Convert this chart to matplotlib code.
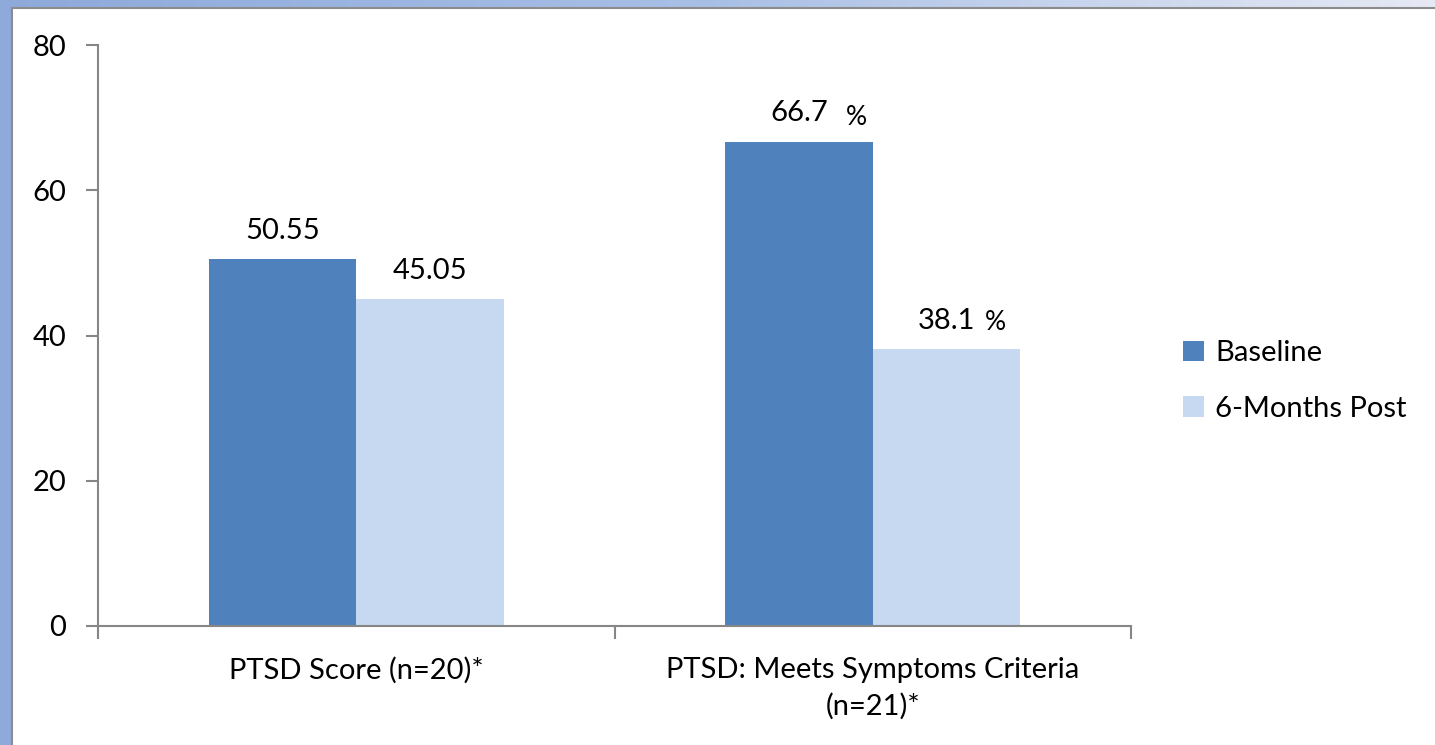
import numpy as np
import matplotlib.pyplot as plt
from matplotlib.patches import Rectangle

plt.rcParams['font.family'] = ['Lato', 'DejaVu Sans']
plt.rc('font', size=21)

# data
categories = ['PTSD Score (n=20)*', 'PTSD: Meets Symptoms Criteria\n(n=21)*']
series = ['Baseline', '6-Months Post']
baseline = [50.55, 66.7]
post = [45.05, 38.1]
baseline_labels = ['50.55', '66.7']
post_labels = ['45.05', '38.1']
label_suffix = ['', '%']
colors = ['#4f81bd', '#c6d9f0']

fig = plt.figure(figsize=(14.35, 7.45), dpi=100)

# blue gradient frame behind the white panel
bg = fig.add_axes([0, 0, 1, 1], zorder=-10)
gx = np.linspace(0, 1, 256)
grad = np.tile(gx, (2, 1))
bg.imshow(grad, extent=[0, 1, 0, 1], aspect='auto', cmap=plt.matplotlib.colors.LinearSegmentedColormap.from_list(
    'frame', ['#8eaadb', '#a9c0e6', '#e6e9f4']), origin='lower')
bg.add_patch(Rectangle((12/1435, -0.01), 1, 1.01 - 8/745, facecolor='white', edgecolor='#8c8c8c', lw=1.5))
bg.set_xlim(0, 1)
bg.set_ylim(0, 1)
bg.axis('off')

ax = fig.add_axes([98/1435, 1 - 626/745, (1131 - 98)/1435, (626 - 45)/745])
ax.patch.set_alpha(0)
x = np.arange(len(categories))
w = 0.2856
b1 = ax.bar(x - w/2, baseline, w, color=colors[0], label=series[0])
b2 = ax.bar(x + w/2, post, w, color=colors[1], label=series[1])

for i in range(len(categories)):
    ax.text(x[i] - w/2, baseline[i] + 2.1, baseline_labels[i], ha='center', va='bottom')
    ax.text(x[i] + w/2, post[i] + 2.1, post_labels[i], ha='center', va='bottom')
    if label_suffix[i]:
        ax.text(x[i] - w/2 + 0.09, baseline[i] + 1.6, label_suffix[i], ha='left', va='bottom', fontsize=19)
        ax.text(x[i] + w/2 + 0.075, post[i] + 2.0, label_suffix[i], ha='left', va='bottom', fontsize=19)

ax.set_xlim(-0.5, 1.5)
ax.set_ylim(0, 80)
ax.set_yticks([0, 20, 40, 60, 80])
ax.set_xticks([-0.5, 0.5, 1.5])
ax.set_xticklabels([])
ax.set_xticks(x, minor=True)
ax.set_xticklabels(categories, minor=True, linespacing=1.45)
ax.tick_params(axis='x', which='minor', length=0, pad=22)
ax.tick_params(axis='both', which='major', length=9, width=1.5, color='#868686', direction='out')
ax.tick_params(axis='y', pad=14)
for s in ['top', 'right']:
    ax.spines[s].set_visible(False)
for s in ['left', 'bottom']:
    ax.spines[s].set_color('#868686')
    ax.spines[s].set_linewidth(1.5)

fig.legend(handles=[b1, b2], loc='center left', bbox_to_anchor=(1157/1435, 1 - 381/745),
           frameon=False, handlelength=0.7, handleheight=0.7, labelspacing=1.0, handletextpad=0.4)

fig.savefig('out.png')
